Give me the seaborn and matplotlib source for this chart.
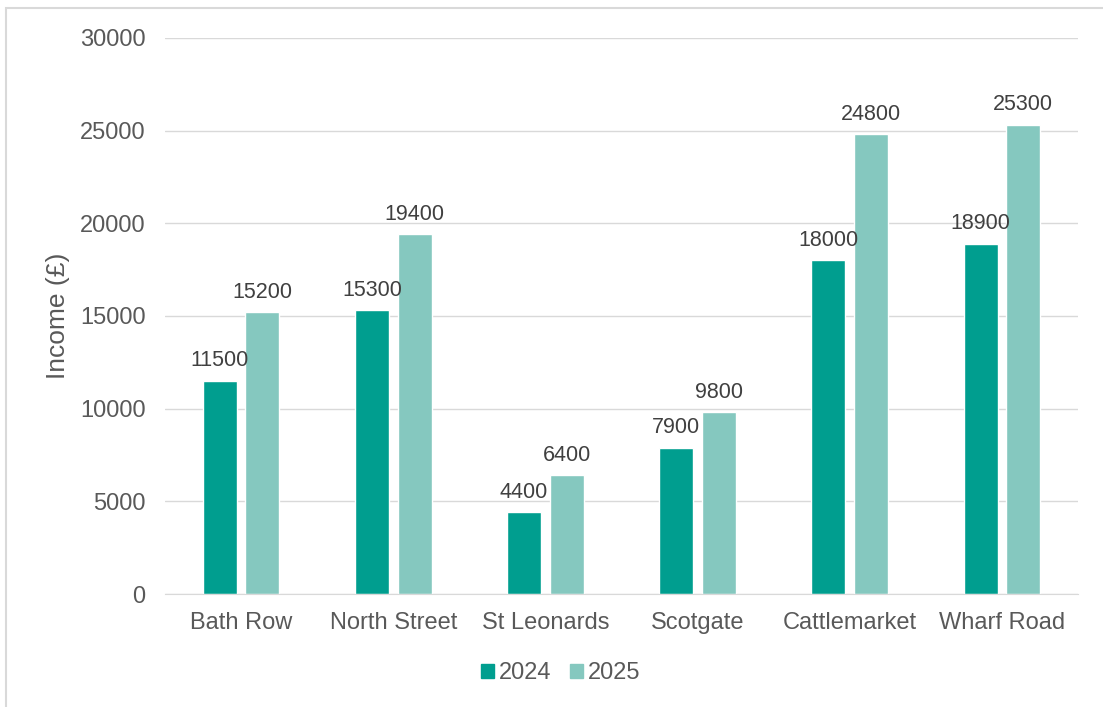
import pandas as pd
import matplotlib.pyplot as plt
import matplotlib.patches as mpatches
import seaborn as sns

# chart data
locations = ['Bath Row', 'North Street', 'St Leonards', 'Scotgate', 'Cattlemarket', 'Wharf Road']
income_2024 = [11500, 15300, 4400, 7900, 18000, 18900]
income_2025 = [15200, 19400, 6400, 9800, 24800, 25300]
years = ['2024', '2025']
yticks = [0, 5000, 10000, 15000, 20000, 25000, 30000]

df = pd.DataFrame({
    'Location': locations * 2,
    'Year': [years[0]] * len(locations) + [years[1]] * len(locations),
    'Income': income_2024 + income_2025,
})

sns.set_style('white')
plt.rcParams['font.family'] = ['Liberation Sans', 'DejaVu Sans']

fig = plt.figure(figsize=(11.03, 7.07), dpi=100)
ax = fig.add_axes([0.1496, 0.1598, 0.8277, 0.7865])

palette = {'2024': '#009E8F', '2025': '#85C8BF'}
sns.barplot(data=df, x='Location', y='Income', hue='Year', palette=palette,
            width=0.56, gap=0.2, ax=ax, legend=False, saturation=1)

for cont in ax.containers:
    ax.bar_label(cont, fmt='%d', padding=7, fontsize=15.5, color='#404040')

ax.set_ylim(0, 30000)
ax.set_yticks(yticks)
ax.set_yticklabels([str(t) for t in yticks])
ax.tick_params(axis='both', labelsize=17, colors='#595959', length=0)
ax.tick_params(axis='x', pad=13)
ax.tick_params(axis='y', pad=14)
ax.grid(axis='y', color='#D9D9D9', linewidth=1)
ax.set_axisbelow(True)
for s in ['top', 'right', 'left']:
    ax.spines[s].set_visible(False)
ax.spines['bottom'].set_color('#D9D9D9')
ax.set_xlabel('')
ax.set_ylabel('Income (£)', fontsize=19, color='#595959')
ax.yaxis.set_label_coords(-0.104, 0.5)

handles = [mpatches.Patch(color=palette[y], label=y) for y in years]
fig.legend(handles=handles, loc='center', bbox_to_anchor=(0.508, 0.048), ncol=2,
           frameon=False, fontsize=17, labelcolor='#595959',
           handlelength=0.55, handleheight=0.55, handletextpad=0.2, columnspacing=0.8)

# light border around the chart area
fig.patches.append(mpatches.Rectangle((6 / 1103, -0.01), 1.1, 1 - 8 / 707 + 0.01,
                                      transform=fig.transFigure, fill=False,
                                      edgecolor='#D9D9D9', linewidth=1.5))

fig.savefig('out.png', dpi=100)
plt.close(fig)
